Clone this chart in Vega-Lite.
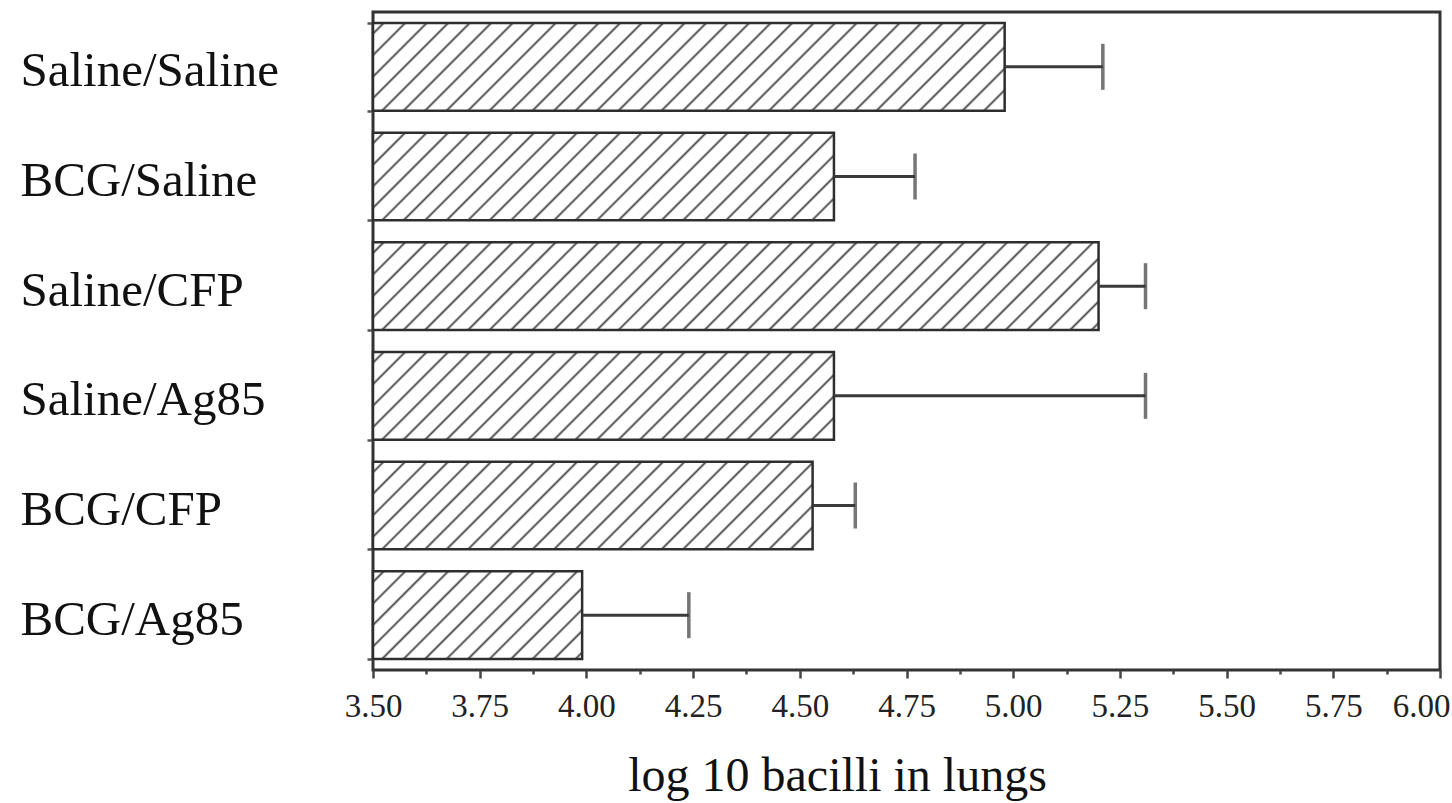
{
  "$schema": "https://vega.github.io/schema/vega-lite/v6.json",
  "width": 1067,
  "height": 658,
  "autosize": {"type": "none"},
  "padding": {"left": 373, "top": 12, "right": 12, "bottom": 133},
  "background": "white",
  "config": {"view": {"stroke": "#333333", "strokeWidth": 3}},
  "params": [
    {"name": "hatch", "value": [
      {"offset":0.0095,"color":"#ffffff"},{"offset":0.0125,"color":"#444444"},{"offset":0.0155,"color":"#ffffff"},
      {"offset":0.0345,"color":"#ffffff"},{"offset":0.0375,"color":"#444444"},{"offset":0.0405,"color":"#ffffff"},
      {"offset":0.0595,"color":"#ffffff"},{"offset":0.0625,"color":"#444444"},{"offset":0.0655,"color":"#ffffff"},
      {"offset":0.0845,"color":"#ffffff"},{"offset":0.0875,"color":"#444444"},{"offset":0.0905,"color":"#ffffff"},
      {"offset":0.1095,"color":"#ffffff"},{"offset":0.1125,"color":"#444444"},{"offset":0.1155,"color":"#ffffff"},
      {"offset":0.1345,"color":"#ffffff"},{"offset":0.1375,"color":"#444444"},{"offset":0.1405,"color":"#ffffff"},
      {"offset":0.1595,"color":"#ffffff"},{"offset":0.1625,"color":"#444444"},{"offset":0.1655,"color":"#ffffff"},
      {"offset":0.1845,"color":"#ffffff"},{"offset":0.1875,"color":"#444444"},{"offset":0.1905,"color":"#ffffff"},
      {"offset":0.2095,"color":"#ffffff"},{"offset":0.2125,"color":"#444444"},{"offset":0.2155,"color":"#ffffff"},
      {"offset":0.2345,"color":"#ffffff"},{"offset":0.2375,"color":"#444444"},{"offset":0.2405,"color":"#ffffff"},
      {"offset":0.2595,"color":"#ffffff"},{"offset":0.2625,"color":"#444444"},{"offset":0.2655,"color":"#ffffff"},
      {"offset":0.2845,"color":"#ffffff"},{"offset":0.2875,"color":"#444444"},{"offset":0.2905,"color":"#ffffff"},
      {"offset":0.3095,"color":"#ffffff"},{"offset":0.3125,"color":"#444444"},{"offset":0.3155,"color":"#ffffff"},
      {"offset":0.3345,"color":"#ffffff"},{"offset":0.3375,"color":"#444444"},{"offset":0.3405,"color":"#ffffff"},
      {"offset":0.3595,"color":"#ffffff"},{"offset":0.3625,"color":"#444444"},{"offset":0.3655,"color":"#ffffff"},
      {"offset":0.3845,"color":"#ffffff"},{"offset":0.3875,"color":"#444444"},{"offset":0.3905,"color":"#ffffff"},
      {"offset":0.4095,"color":"#ffffff"},{"offset":0.4125,"color":"#444444"},{"offset":0.4155,"color":"#ffffff"},
      {"offset":0.4345,"color":"#ffffff"},{"offset":0.4375,"color":"#444444"},{"offset":0.4405,"color":"#ffffff"},
      {"offset":0.4595,"color":"#ffffff"},{"offset":0.4625,"color":"#444444"},{"offset":0.4655,"color":"#ffffff"},
      {"offset":0.4845,"color":"#ffffff"},{"offset":0.4875,"color":"#444444"},{"offset":0.4905,"color":"#ffffff"},
      {"offset":0.5095,"color":"#ffffff"},{"offset":0.5125,"color":"#444444"},{"offset":0.5155,"color":"#ffffff"},
      {"offset":0.5345,"color":"#ffffff"},{"offset":0.5375,"color":"#444444"},{"offset":0.5405,"color":"#ffffff"},
      {"offset":0.5595,"color":"#ffffff"},{"offset":0.5625,"color":"#444444"},{"offset":0.5655,"color":"#ffffff"},
      {"offset":0.5845,"color":"#ffffff"},{"offset":0.5875,"color":"#444444"},{"offset":0.5905,"color":"#ffffff"},
      {"offset":0.6095,"color":"#ffffff"},{"offset":0.6125,"color":"#444444"},{"offset":0.6155,"color":"#ffffff"},
      {"offset":0.6345,"color":"#ffffff"},{"offset":0.6375,"color":"#444444"},{"offset":0.6405,"color":"#ffffff"},
      {"offset":0.6595,"color":"#ffffff"},{"offset":0.6625,"color":"#444444"},{"offset":0.6655,"color":"#ffffff"},
      {"offset":0.6845,"color":"#ffffff"},{"offset":0.6875,"color":"#444444"},{"offset":0.6905,"color":"#ffffff"},
      {"offset":0.7095,"color":"#ffffff"},{"offset":0.7125,"color":"#444444"},{"offset":0.7155,"color":"#ffffff"},
      {"offset":0.7345,"color":"#ffffff"},{"offset":0.7375,"color":"#444444"},{"offset":0.7405,"color":"#ffffff"},
      {"offset":0.7595,"color":"#ffffff"},{"offset":0.7625,"color":"#444444"},{"offset":0.7655,"color":"#ffffff"},
      {"offset":0.7845,"color":"#ffffff"},{"offset":0.7875,"color":"#444444"},{"offset":0.7905,"color":"#ffffff"},
      {"offset":0.8095,"color":"#ffffff"},{"offset":0.8125,"color":"#444444"},{"offset":0.8155,"color":"#ffffff"},
      {"offset":0.8345,"color":"#ffffff"},{"offset":0.8375,"color":"#444444"},{"offset":0.8405,"color":"#ffffff"},
      {"offset":0.8595,"color":"#ffffff"},{"offset":0.8625,"color":"#444444"},{"offset":0.8655,"color":"#ffffff"},
      {"offset":0.8845,"color":"#ffffff"},{"offset":0.8875,"color":"#444444"},{"offset":0.8905,"color":"#ffffff"},
      {"offset":0.9095,"color":"#ffffff"},{"offset":0.9125,"color":"#444444"},{"offset":0.9155,"color":"#ffffff"},
      {"offset":0.9345,"color":"#ffffff"},{"offset":0.9375,"color":"#444444"},{"offset":0.9405,"color":"#ffffff"},
      {"offset":0.9595,"color":"#ffffff"},{"offset":0.9625,"color":"#444444"},{"offset":0.9655,"color":"#ffffff"},
      {"offset":0.9845,"color":"#ffffff"},{"offset":0.9875,"color":"#444444"},{"offset":0.9905,"color":"#ffffff"}
    ]}
  ],
  "data": {"values": [
    {"group": "Saline/Saline", "v": 4.98, "hi": 5.21},
    {"group": "BCG/Saline", "v": 4.58, "hi": 4.77},
    {"group": "Saline/CFP", "v": 5.20, "hi": 5.31},
    {"group": "Saline/Ag85", "v": 4.58, "hi": 5.31},
    {"group": "BCG/CFP", "v": 4.53, "hi": 4.63},
    {"group": "BCG/Ag85", "v": 3.99, "hi": 4.24}
  ]},
  "encoding": {
    "y": {
      "field": "group", "type": "nominal", "sort": null,
      "scale": {"paddingInner": 0.2, "paddingOuter": 0.1},
      "axis": {
        "title": null, "domain": false, "grid": false,
        "labelFont": "Liberation Serif", "labelFontSize": 49, "labelColor": "#111111",
        "labelAlign": "left", "labelBaseline": "middle", "labelPadding": 347, "labelOffset": 4,
        "labelLimit": 400,
        "ticks": true, "tickBand": "extent", "tickSize": 6, "tickWidth": 2.5, "tickColor": "#555555"
      }
    }
  },
  "layer": [
    {
      "mark": {
        "type": "bar",
        "stroke": "#2e2e2e", "strokeWidth": 2.5,
        "fill": {"expr": "{gradient: 'linear', x1: 0, y1: 0, x2: 860 * (scale('x', datum.v) - scale('x', 3.5)) / (pow(scale('x', datum.v) - scale('x', 3.5), 2) + pow(bandwidth('y'), 2)), y2: 860 * bandwidth('y') / (pow(scale('x', datum.v) - scale('x', 3.5), 2) + pow(bandwidth('y'), 2)), stops: hatch}"}
      },
      "encoding": {
        "x": {
          "field": "v", "type": "quantitative",
          "scale": {"domain": [3.5, 6], "nice": false, "zero": false},
          "axis": {
            "values": [3.5, 3.625, 3.75, 3.875, 4, 4.125, 4.25, 4.375, 4.5, 4.625, 4.75, 4.875, 5, 5.125, 5.25, 5.375, 5.5, 5.625, 5.75, 5.875, 6],
            "labelExpr": "datum.value % 0.25 === 0 ? format(datum.value, '.2f') : ''",
            "labelOverlap": false, "labelFlush": false,
            "labelAlign": {"condition": {"test": "datum.value === 6", "value": "right"}, "value": "center"},
            "labelOffset": {"condition": {"test": "datum.value === 6", "value": 10}, "value": 0},
            "tickSize": {"condition": {"test": "datum.value % 0.25 !== 0", "value": 4}, "value": 8},
            "tickWidth": 2.5, "tickColor": "#444444",
            "domain": false, "grid": false,
            "labelFont": "Liberation Serif", "labelFontSize": 33, "labelColor": "#222222", "labelPadding": 12,
            "title": "log 10 bacilli in lungs",
            "titleFont": "Liberation Serif", "titleFontSize": 48, "titleFontWeight": "normal", "titleColor": "#111111",
            "titleX": 464, "titleY": 120, "titleAlign": "center", "titleBaseline": "alphabetic"
          }
        },
        "x2": {"datum": 3.5}
      }
    },
    {
      "mark": {"type": "rule", "color": "#3a3a3a", "strokeWidth": 3},
      "encoding": {
        "x": {"field": "v", "type": "quantitative"},
        "x2": {"field": "hi"}
      }
    },
    {
      "mark": {"type": "tick", "color": "#3a3a3a", "thickness": 3.5, "size": 46},
      "encoding": {
        "x": {"field": "hi", "type": "quantitative"}
      }
    }
  ]
}
